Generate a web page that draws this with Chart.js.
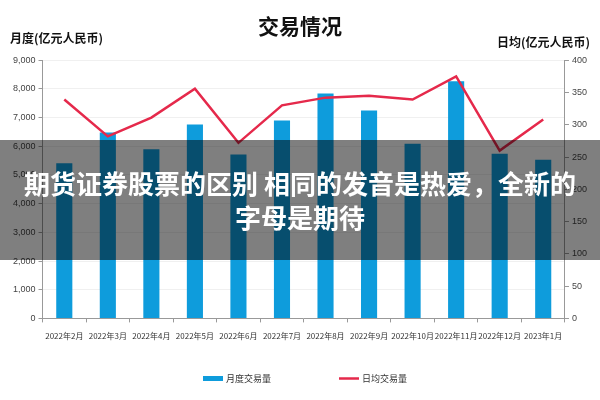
<!DOCTYPE html>
<html>
<head>
<meta charset="utf-8">
<script src="https://cdn.jsdelivr.net/npm/chart.js@4/dist/chart.umd.min.js"></script>
<style>
    body { margin: 0; background: #fff; font-family: "Noto Sans CJK SC", "Noto Sans", sans-serif; }
    #wrap { position: relative; width: 600px; height: 400px; }
    #banner {
        position: absolute; left: 0; top: 140px; width: 600px; height: 120px;
        background: rgba(0, 0, 0, 0.5); color: #fff;
        font-family: "Noto Sans CJK SC", sans-serif; font-weight: bold; font-size: 26px;
        line-height: 34px; text-align: center; padding-top: 26px; box-sizing: border-box;
        white-space: nowrap;
    }
</style>
</head>
<body>
<div id="wrap">
    <canvas id="tradeChart" width="600" height="400"></canvas>
    <div id="banner">期货证券股票的区别 相同的发音是热爱，全新的<br>字母是期待</div>
</div>
<script>
// Data
const months = ['2022年2月', '2022年3月', '2022年4月', '2022年5月', '2022年6月', '2022年7月',
    '2022年8月', '2022年9月', '2022年10月', '2022年11月', '2022年12月', '2023年1月'];
const monthlyVolume = [5410, 6480, 5900, 6760, 5710, 6900, 7840, 7250, 6090, 8270, 5740, 5530];
const dailyAverage = [339, 282, 311, 356, 272, 330, 342, 345, 339, 375, 260, 308];

const CJK = '"Noto Sans CJK SC", sans-serif';

// Axis titles above each axis, and a wide-spaced legend at the bottom
const extras = {
    id: 'extras',
    afterDraw(chart) {
        const ctx = chart.ctx;
        ctx.save();
        ctx.fillStyle = '#111';
        ctx.font = 'bold 12px ' + CJK;
        ctx.textBaseline = 'middle';
        ctx.textAlign = 'left';
        ctx.fillText('月度(亿元人民币)', 10, 38);
        ctx.textAlign = 'right';
        ctx.fillText('日均(亿元人民币)', 590, 42);

        // legend: bar first, then line
        const bar = chart.data.datasets[1];
        const line = chart.data.datasets[0];
        ctx.textAlign = 'left';
        ctx.font = '9px ' + CJK;
        ctx.fillStyle = bar.backgroundColor;
        ctx.fillRect(203, 376, 20, 5);
        ctx.fillStyle = '#333';
        ctx.fillText(bar.label, 226, 379);
        ctx.strokeStyle = line.borderColor;
        ctx.lineWidth = 2.5;
        ctx.beginPath();
        ctx.moveTo(339, 378.5);
        ctx.lineTo(359, 378.5);
        ctx.stroke();
        ctx.fillText(line.label, 362, 379);
        ctx.restore();
    }
};

new Chart(document.getElementById('tradeChart'), {
    data: {
        labels: months,
        datasets: [{
            type: 'line',
            label: '日均交易量',
            data: dailyAverage,
            yAxisID: 'y1',
            borderColor: '#e5294b',
            backgroundColor: '#e5294b',
            borderWidth: 2.5,
            pointRadius: 0,
            tension: 0,
            order: 0
        }, {
            type: 'bar',
            label: '月度交易量',
            data: monthlyVolume,
            yAxisID: 'y',
            backgroundColor: '#0e9cdc',
            barPercentage: 0.37,
            categoryPercentage: 1,
            order: 1
        }]
    },
    options: {
        responsive: false,
        animation: false,
        layout: { padding: { top: 0, left: 10, right: 10, bottom: 50 } },
        plugins: {
            title: {
                display: true,
                text: '交易情况',
                color: '#111',
                font: { family: CJK, size: 21, weight: 'bold' },
                padding: { top: 13, bottom: 22 }
            },
            legend: { display: false },
            tooltip: { enabled: false }
        },
        scales: {
            x: {
                grid: { drawOnChartArea: false, offset: true, tickColor: '#999', tickLength: 4 },
                border: { color: '#999' },
                ticks: { color: '#333', font: { family: CJK, size: 8 }, padding: 9,
                    maxRotation: 0, autoSkip: false }
            },
            y: {
                position: 'left',
                min: 0,
                max: 9000,
                ticks: { stepSize: 1000, color: '#444', font: { size: 9 },
                    callback: v => v.toLocaleString('en-US') },
                grid: { color: '#f0f0f0', tickColor: '#999', tickLength: 4 },
                border: { color: '#999' }
            },
            y1: {
                position: 'right',
                min: 0,
                max: 400,
                ticks: { stepSize: 50, color: '#444', font: { size: 9 } },
                grid: { drawOnChartArea: false, tickColor: '#999', tickLength: 4 },
                border: { color: '#999' }
            }
        }
    },
    plugins: [extras]
});
</script>
</body>
</html>
